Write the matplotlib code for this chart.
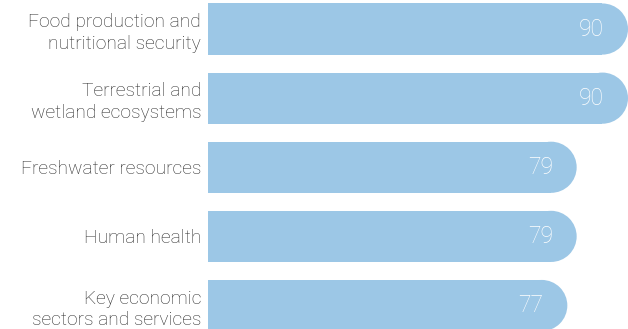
import matplotlib.pyplot as plt
from matplotlib.patches import Ellipse

categories = ["Food production and\nnutritional security",
              "Terrestrial and\nwetland ecosystems",
              "Freshwater resources",
              "Human health",
              "Key economic\nsectors and services"]
values = [90, 90, 79, 79, 77]

bar_color = "#9cc7e6"
bar_h = 0.74

fig = plt.figure(figsize=(6.28, 3.29), dpi=100)
ax = fig.add_axes([208 / 628, 0, 1 - 208 / 628, 1])
ax.set_xlim(0, 90)
ax.set_ylim(4.34, -0.42)

# radius of the rounded end in data units (half bar height in pixels)
px_per_x = (628 - 208) / 90
px_per_y = 329 / (4.34 + 0.42)
r_px = bar_h * px_per_y / 2
r_x = r_px / px_per_x

ys = list(range(len(categories)))
ax.barh(ys, [v - r_x for v in values], height=bar_h, color=bar_color, linewidth=0)
for y, v in zip(ys, values):
    ax.add_patch(Ellipse((v - r_x, y), 2 * r_x, bar_h, color=bar_color, linewidth=0))
    ax.annotate(str(v), (v, y), xytext=(-24, 0), textcoords="offset pixels",
                ha="right", va="center", color="white", fontsize=16.5,
                family="Roboto", fontweight="light")

ax.set_yticks(ys)
ax.set_yticklabels(categories, fontsize=13.8, color="#2a2a2a", family="Roboto",
                   fontweight="light", linespacing=1.28)
ax.tick_params(axis="y", length=0, pad=5)
ax.set_xticks([])
for s in ax.spines.values():
    s.set_visible(False)

fig.savefig("out.png", dpi=100)
